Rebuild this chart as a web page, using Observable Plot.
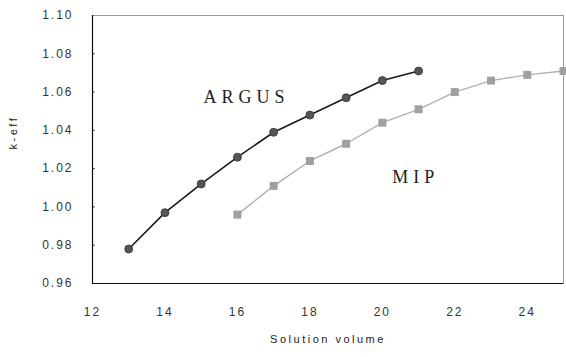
<!DOCTYPE html>
<html><head><meta charset="utf-8">
<script src="https://cdn.jsdelivr.net/npm/d3@7"></script>
<script src="https://cdn.jsdelivr.net/npm/@observablehq/plot@0.6"></script>
<style>body{margin:0;background:#fff}</style>
</head><body><div id="chart"></div>
<script>
const argusX = [13,14,15,16,17,18,19,20,21];
const argusY = [0.978,0.997,1.012,1.026,1.039,1.048,1.057,1.066,1.071];
const mipX = [16,17,18,19,20,21,22,23,24,25];
const mipY = [0.996,1.011,1.024,1.033,1.044,1.051,1.060,1.066,1.069,1.071];
const xTicks = [12,14,16,18,20,22,24];
const yTicks = [0.96,0.98,1.00,1.02,1.04,1.06,1.08,1.10];
const seriesLabels = [{name:"ARGUS", x:16.25, y:1.0575},{name:"MIP", x:20.92, y:1.0155}];

const argus = argusX.map((x,i)=>({x, y:argusY[i]}));
const mip = mipX.map((x,i)=>({x, y:mipY[i]}));

const chart = Plot.plot({
  width:566, height:357,
  marginLeft:92, marginRight:3, marginTop:15, marginBottom:74,
  style:{fontFamily:"'Liberation Sans', Arial, sans-serif", fontSize:"11px", color:"#333", background:"#fff"},
  x:{domain:[12,25]},
  y:{domain:[0.96,1.10]},
  marks:[
    Plot.frame({stroke:"#999"}),
    Plot.ruleX([12],{stroke:"#111", strokeWidth:1.2}),
    Plot.ruleY([0.96],{stroke:"#111", strokeWidth:1.2}),
    Plot.axisY(yTicks,{tickSize:0, tickPadding:19, tickFormat:d=>d.toFixed(2), label:null, className:"spaced"}),
    Plot.ruleY(yTicks.slice(1,-1),{x1:12, x2:12.07, stroke:"#111"}),
    Plot.axisX(xTicks,{tickSize:0, tickPadding:24, label:null, className:"spaced"}),
    Plot.line(argus,{x:"x", y:"y", stroke:"#1a1a1a", strokeWidth:1.6}),
    Plot.dot(argus,{x:"x", y:"y", r:4, fill:"#555", stroke:"#333", strokeWidth:0.8}),
    Plot.line(mip,{x:"x", y:"y", stroke:"#b0b0b0", strokeWidth:1.4}),
    Plot.dot(mip,{x:"x", y:"y", symbol:"square", r:4.5, fill:"#a0a0a0", stroke:"none"}),
    Plot.text(seriesLabels,{x:"x", y:"y", text:"name", fontSize:18, fontFamily:"'Liberation Serif', serif", fill:"#222", className:"wide"}),
    Plot.text(["Solution volume"],{frameAnchor:"bottom", dy:59, fontSize:11, fill:"#222", className:"spaced2"}),
    Plot.text(["k-eff"],{frameAnchor:"left", dx:-79, rotate:-90, fontSize:11, fill:"#222", className:"spaced2"})
  ]
});
d3.select(chart).selectAll(".spaced text").attr("letter-spacing","2px").attr("font-size","12px");
d3.select(chart).selectAll(".wide text").attr("letter-spacing","5px");
d3.select(chart).selectAll(".spaced2 text").attr("letter-spacing","2.5px");
document.getElementById("chart").append(chart);
</script></body></html>
